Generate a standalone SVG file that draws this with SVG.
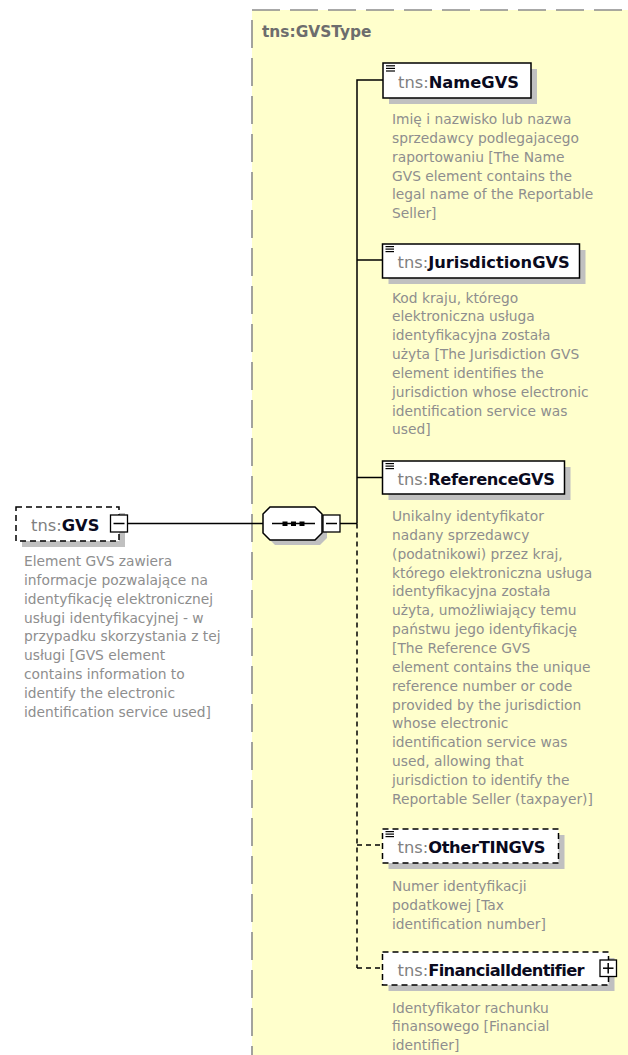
<svg xmlns="http://www.w3.org/2000/svg" width="628" height="1055" viewBox="0 0 628 1055">
<style>
text{font-family:"DejaVu Sans","Liberation Sans",sans-serif;}
.box{fill:#ffffff;stroke:#000000;stroke-width:1.5;}
.dbox{fill:#ffffff;stroke:#000000;stroke-width:1.5;stroke-dasharray:6,4;}
.shadow{fill:#c0c0c0;stroke:none;}
.ns{font-size:16.3px;fill:#808080;}
.nm{font-size:16.3px;font-weight:bold;fill:#0a0a1e;}
.desc{font-size:13.8px;fill:#8e8e8e;}
.icon{stroke:#000000;stroke-width:1.2;}
.conn{fill:none;stroke:#000000;stroke-width:1.5;}
.dconn{fill:none;stroke:#000000;stroke-width:1.5;stroke-dasharray:5,4;}
.tog{fill:#ffffff;stroke:#000000;stroke-width:1.3;}
</style>

<g id="type-GVSType">
<rect x="252" y="10" width="420" height="1100" fill="#ffffcc" stroke="#8c8c8c" stroke-width="1.6" stroke-dasharray="28,10"/>
<text x="262" y="37" font-size="15.4" font-weight="bold" fill="#6d6d6d">tns:GVSType</text>
</g>

<g id="connectors">
<line class="conn" x1="128" y1="523.5" x2="263" y2="523.5"/>
<line class="conn" x1="340" y1="523.5" x2="357" y2="523.5"/>
<polyline class="conn" points="383,80 357,80 357,523.5"/>
<line class="conn" x1="357" y1="260" x2="382.5" y2="260"/>
<line class="conn" x1="357" y1="477.5" x2="382.5" y2="477.5"/>
<line class="dconn" x1="357" y1="523.5" x2="357" y2="968"/>
<line class="dconn" x1="357" y1="845" x2="382.5" y2="845"/>
<line class="dconn" x1="357" y1="968" x2="382.5" y2="968"/>
</g>

<g id="node-GVS">
<rect class="shadow" x="22" y="513" width="103" height="34"/>
<rect class="dbox" x="16" y="507" width="103" height="34"/>
<text x="31" y="531"><tspan class="ns">tns:</tspan><tspan class="nm">GVS</tspan></text>
<rect class="tog" x="110.5" y="515" width="17" height="17"/>
<line class="conn" x1="113.5" y1="523.5" x2="124.5" y2="523.5"/>
<text class="desc" x="24" y="566"><tspan x="24">Element GVS zawiera</tspan><tspan x="24" dy="18.85">informacje pozwalające na</tspan><tspan x="24" dy="18.85">identyfikację elektronicznej</tspan><tspan x="24" dy="18.85">usługi identyfikacyjnej - w</tspan><tspan x="24" dy="18.85">przypadku skorzystania z tej</tspan><tspan x="24" dy="18.85">usługi [GVS element</tspan><tspan x="24" dy="18.85">contains information to</tspan><tspan x="24" dy="18.85">identify the electronic</tspan><tspan x="24" dy="18.85">identification service used]</tspan></text>
</g>

<g id="node-sequence">
<polygon class="shadow" points="275,512 320,512 327,519 327,538 320,545 275,545 268,538 268,519"/>
<polygon class="box" points="270,507 315,507 322,514 322,533 315,540 270,540 263,533 263,514"/>
<line class="conn" x1="272" y1="523.5" x2="315" y2="523.5"/>
<rect x="282.5" y="521.5" width="5" height="4.5" fill="#000"/>
<rect x="291" y="521.5" width="5" height="4.5" fill="#000"/>
<rect x="299.5" y="521.5" width="5" height="4.5" fill="#000"/>
<rect class="tog" x="323" y="515" width="17" height="17"/>
<line class="conn" x1="326" y1="523.5" x2="337" y2="523.5"/>
</g>

<g id="node-NameGVS">
<rect class="shadow" x="389" y="69" width="148" height="35"/>
<rect class="box" x="383" y="63" width="148" height="35"/>
<line class="icon" x1="386" y1="65.8" x2="395" y2="65.8"/>
<line class="icon" x1="386" y1="68.4" x2="395" y2="68.4"/>
<line class="icon" x1="386" y1="71" x2="395" y2="71"/>
<text x="398" y="87.6"><tspan class="ns">tns:</tspan><tspan class="nm">NameGVS</tspan></text>
<text class="desc" x="392" y="124"><tspan x="392">Imię i nazwisko lub nazwa</tspan><tspan x="392" dy="18.85">sprzedawcy podlegajacego</tspan><tspan x="392" dy="18.85">raportowaniu [The Name</tspan><tspan x="392" dy="18.85">GVS element contains the</tspan><tspan x="392" dy="18.85">legal name of the Reportable</tspan><tspan x="392" dy="18.85">Seller]</tspan></text>
</g>

<g id="node-JurisdictionGVS">
<rect class="shadow" x="388.5" y="250" width="197" height="34"/>
<rect class="box" x="382.5" y="244" width="197" height="34"/>
<line class="icon" x1="385.5" y1="246.6" x2="394" y2="246.6"/>
<line class="icon" x1="385.5" y1="249.1" x2="394" y2="249.1"/>
<line class="icon" x1="385.5" y1="251.6" x2="394" y2="251.6"/>
<text x="397.5" y="268.3"><tspan class="ns">tns:</tspan><tspan class="nm">JurisdictionGVS</tspan></text>
<text class="desc" x="392" y="302.5"><tspan x="392">Kod kraju, którego</tspan><tspan x="392" dy="18.85">elektroniczna usługa</tspan><tspan x="392" dy="18.85">identyfikacyjna została</tspan><tspan x="392" dy="18.85">użyta [The Jurisdiction GVS</tspan><tspan x="392" dy="18.85">element identifies the</tspan><tspan x="392" dy="18.85">jurisdiction whose electronic</tspan><tspan x="392" dy="18.85">identification service was</tspan><tspan x="392" dy="18.85">used]</tspan></text>
</g>

<g id="node-ReferenceGVS">
<rect class="shadow" x="388.5" y="467" width="182" height="33"/>
<rect class="box" x="382.5" y="461" width="182" height="33"/>
<line class="icon" x1="385.5" y1="463.6" x2="394" y2="463.6"/>
<line class="icon" x1="385.5" y1="466.1" x2="394" y2="466.1"/>
<line class="icon" x1="385.5" y1="468.6" x2="394" y2="468.6"/>
<text x="397.5" y="485"><tspan class="ns">tns:</tspan><tspan class="nm" letter-spacing="-0.35">ReferenceGVS</tspan></text>
<text class="desc" x="392" y="521"><tspan x="392">Unikalny identyfikator</tspan><tspan x="392" dy="18.85">nadany sprzedawcy</tspan><tspan x="392" dy="18.85">(podatnikowi) przez kraj,</tspan><tspan x="392" dy="18.85">którego elektroniczna usługa</tspan><tspan x="392" dy="18.85">identyfikacyjna została</tspan><tspan x="392" dy="18.85">użyta, umożliwiający temu</tspan><tspan x="392" dy="18.85">państwu jego identyfikację</tspan><tspan x="392" dy="18.85">[The Reference GVS</tspan><tspan x="392" dy="18.85">element contains the unique</tspan><tspan x="392" dy="18.85">reference number or code</tspan><tspan x="392" dy="18.85">provided by the jurisdiction</tspan><tspan x="392" dy="18.85">whose electronic</tspan><tspan x="392" dy="18.85">identification service was</tspan><tspan x="392" dy="18.85">used, allowing that</tspan><tspan x="392" dy="18.85">jurisdiction to identify the</tspan><tspan x="392" dy="18.85">Reportable Seller (taxpayer)]</tspan></text>
</g>

<g id="node-OtherTINGVS">
<rect class="shadow" x="388.5" y="835" width="176" height="34"/>
<rect class="dbox" x="382.5" y="829" width="176" height="34"/>
<line class="icon" x1="385.5" y1="831.6" x2="394" y2="831.6"/>
<line class="icon" x1="385.5" y1="834.1" x2="394" y2="834.1"/>
<line class="icon" x1="385.5" y1="836.6" x2="394" y2="836.6"/>
<text x="397.5" y="853.3"><tspan class="ns">tns:</tspan><tspan class="nm" letter-spacing="-0.35">OtherTINGVS</tspan></text>
<text class="desc" x="392" y="891"><tspan x="392">Numer identyfikacji</tspan><tspan x="392" dy="18.85">podatkowej [Tax</tspan><tspan x="392" dy="18.85">identification number]</tspan></text>
</g>

<g id="node-FinancialIdentifier">
<rect class="shadow" x="388.5" y="958" width="226" height="33"/>
<rect class="dbox" x="382.5" y="952" width="226" height="33"/>
<text x="397.5" y="976"><tspan class="ns">tns:</tspan><tspan class="nm" letter-spacing="-0.65">FinancialIdentifier</tspan></text>
<rect class="tog" x="600" y="960" width="16.5" height="16.5"/>
<line class="conn" x1="603" y1="968.2" x2="613.5" y2="968.2"/>
<line class="conn" x1="608.2" y1="963" x2="608.2" y2="973.5"/>
<text class="desc" x="392" y="1012.5"><tspan x="392">Identyfikator rachunku</tspan><tspan x="392" dy="18.85">finansowego [Financial</tspan><tspan x="392" dy="18.85">identifier]</tspan></text>
</g>
</svg>
